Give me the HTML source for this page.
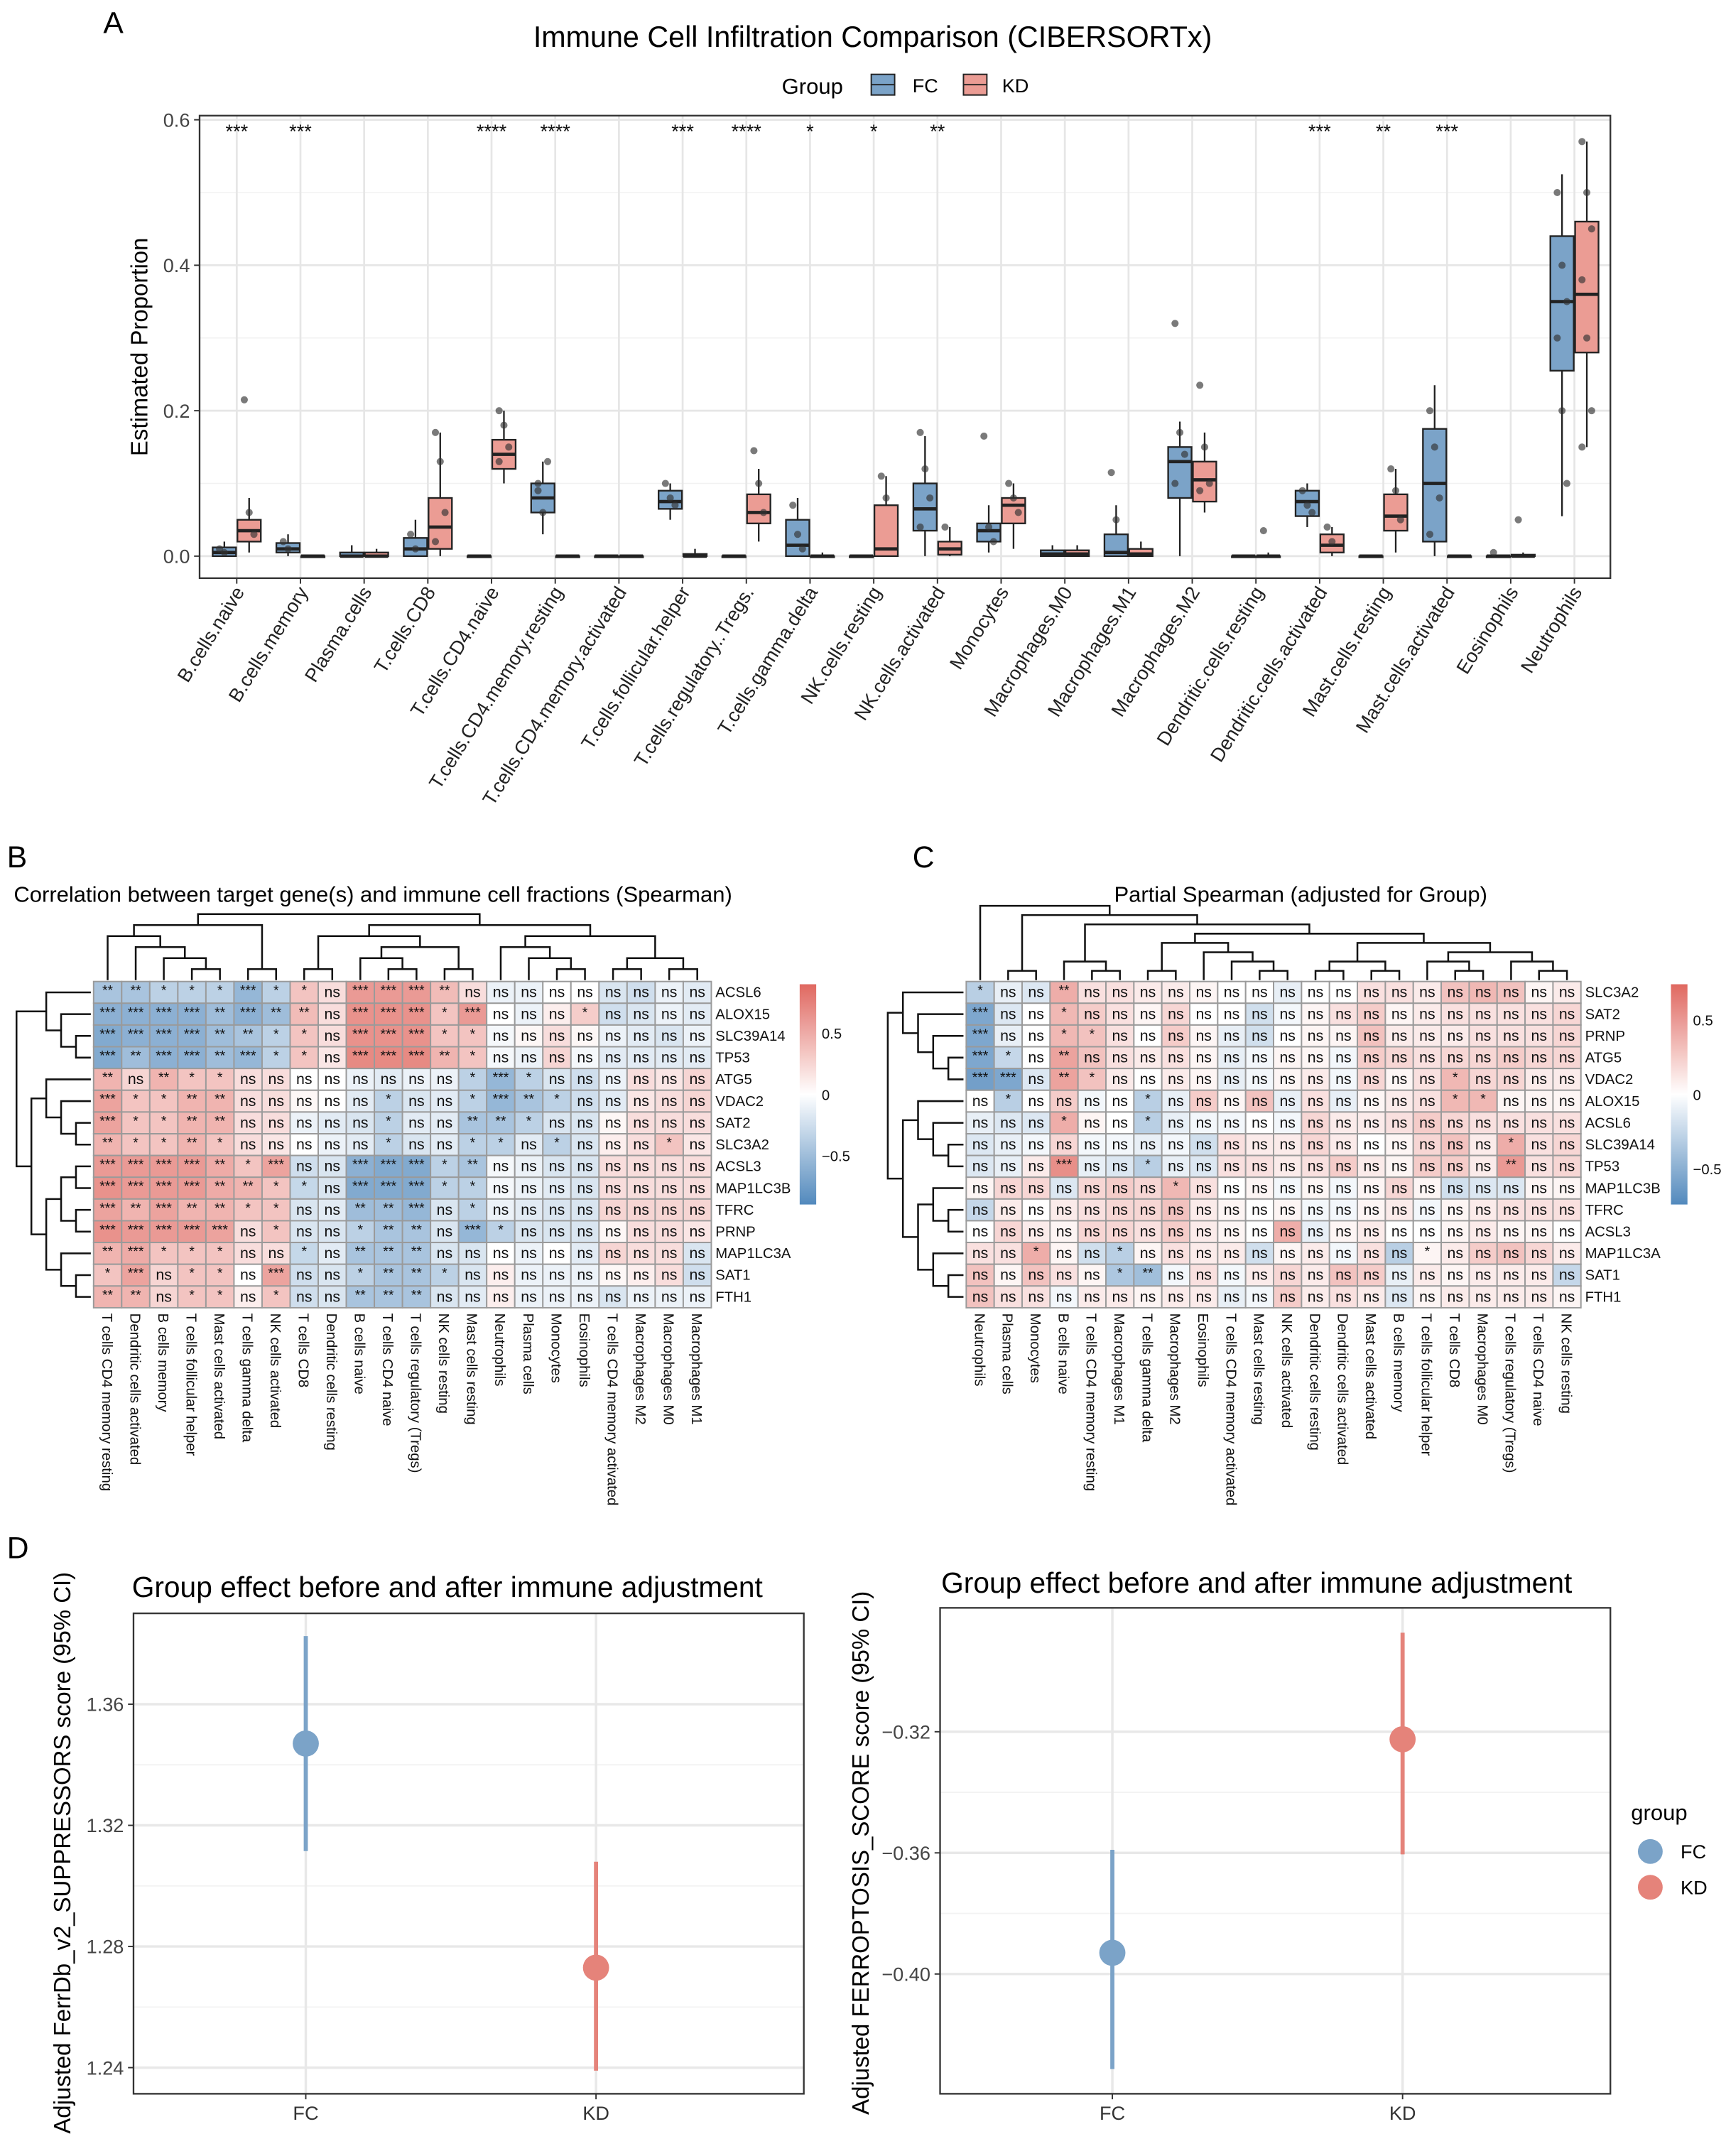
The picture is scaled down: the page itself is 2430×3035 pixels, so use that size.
<!DOCTYPE html>
<html><head><meta charset="utf-8"><style>
html,body{margin:0;padding:0;background:#fff;}
svg{display:block;font-family:"Liberation Sans",Arial,sans-serif;}
</style></head><body>
<svg id="fig" xmlns="http://www.w3.org/2000/svg" width="2430" height="3035" viewBox="0 0 1254 1566.2">
<rect x="0" y="0" width="1254" height="1566.2" fill="#fff"/>
<text x="75" y="24" font-size="22">A</text>
<text x="5" y="630" font-size="22">B</text>
<text x="663" y="630" font-size="22">C</text>
<text x="5" y="1132" font-size="22">D</text>
<text x="634" y="34" font-size="21.3" text-anchor="middle">Immune Cell Infiltration Comparison (CIBERSORTx)</text>
<g>
<text x="568" y="68" font-size="16">Group</text>
<rect x="633" y="54" width="17" height="15" fill="#7ba3c8" stroke="#222"/>
<line x1="633" y1="61.5" x2="650" y2="61.5" stroke="#222"/>
<text x="663" y="67" font-size="14">FC</text>
<rect x="700" y="54" width="17" height="15" fill="#eb9c94" stroke="#222"/>
<line x1="700" y1="61.5" x2="717" y2="61.5" stroke="#222"/>
<text x="728" y="67" font-size="14">KD</text>
</g>
<text x="0" y="0" font-size="17" text-anchor="middle" transform="translate(107,252) rotate(-90)">Estimated Proportion</text>
<text x="10" y="655" font-size="16">Correlation between target gene(s) and immune cell fractions (Spearman)</text>
<text x="945" y="655" font-size="16" text-anchor="middle">Partial Spearman (adjusted for Group)</text>
<text x="325" y="1160" font-size="21" text-anchor="middle">Group effect before and after immune adjustment</text>
<text x="913" y="1157" font-size="21" text-anchor="middle">Group effect before and after immune adjustment</text>
<text x="0" y="0" font-size="17" text-anchor="middle" transform="translate(51,1346) rotate(-90)">Adjusted FerrDb_v2_SUPPRESSORS score (95% CI)</text>
<text x="0" y="0" font-size="17" text-anchor="middle" transform="translate(631,1346) rotate(-90)">Adjusted FERROPTOSIS_SCORE score (95% CI)</text>
<g>
<text x="1185" y="1322" font-size="16">group</text>
<circle cx="1199" cy="1345" r="9" fill="#7ba3c8"/>
<text x="1221" y="1350" font-size="14">FC</text>
<circle cx="1199" cy="1371" r="9" fill="#e5837a"/>
<text x="1221" y="1376" font-size="14">KD</text>
</g>
<g id="gA"></g><g id="gB"></g><g id="gC"></g><g id="gD"></g>
</svg>
<script>
// ---------- Panel A data ----------
const catsA=["B.cells.naive","B.cells.memory","Plasma.cells","T.cells.CD8","T.cells.CD4.naive","T.cells.CD4.memory.resting","T.cells.CD4.memory.activated","T.cells.follicular.helper","T.cells.regulatory..Tregs.","T.cells.gamma.delta","NK.cells.resting","NK.cells.activated","Monocytes","Macrophages.M0","Macrophages.M1","Macrophages.M2","Dendritic.cells.resting","Dendritic.cells.activated","Mast.cells.resting","Mast.cells.activated","Eosinophils","Neutrophils"];
// [whiskerLow, q1, median, q3, whiskerHigh]
const fcStats=[[0,0,0.005,0.012,0.02],[0,0.005,0.01,0.018,0.03],[0,0,0,0.005,0.015],[0,0,0.01,0.025,0.05],[0,0,0,0,0],[0.03,0.06,0.08,0.1,0.13],[0,0,0,0,0],[0.05,0.065,0.075,0.09,0.1],[0,0,0,0,0],[0,0,0.015,0.05,0.08],[0,0,0,0,0],[0,0.035,0.065,0.1,0.165],[0.005,0.02,0.035,0.045,0.07],[0,0,0.003,0.008,0.015],[0,0,0.005,0.03,0.07],[0,0.08,0.13,0.15,0.185],[0,0,0,0,0],[0.04,0.055,0.075,0.09,0.1],[0,0,0,0,0],[0,0.02,0.1,0.175,0.235],[0,0,0,0,0],[0.055,0.255,0.35,0.44,0.525]];
const kdStats=[[0.005,0.02,0.035,0.05,0.08],[0,0,0,0,0],[0,0,0,0.005,0.01],[0,0.01,0.04,0.08,0.17],[0.1,0.12,0.14,0.16,0.2],[0,0,0,0,0],[0,0,0,0,0],[0,0,0,0.003,0.01],[0.02,0.045,0.06,0.085,0.12],[0,0,0,0,0.005],[0,0,0.01,0.07,0.11],[0,0.002,0.01,0.02,0.04],[0.01,0.045,0.07,0.08,0.1],[0,0,0.003,0.008,0.015],[0,0,0.003,0.01,0.02],[0.06,0.075,0.105,0.13,0.17],[0,0,0,0,0.005],[0,0.005,0.015,0.03,0.04],[0.005,0.035,0.055,0.085,0.12],[0,0,0,0,0],[0,0,0,0.002,0.005],[0.15,0.28,0.36,0.46,0.57]];
const fcPoints=[[0,0.01,0.005],[1,0.02,0.01],[3,0.03,0.01],[5,0.1,0.06,0.13,0.09],[7,0.1,0.08,0.07],[9,0.07,0.03,0.01],[11,0.17,0.12,0.08,0.04],[12,0.165,0.04,0.02],[14,0.115,0.05],[15,0.32,0.17,0.14,0.1],[17,0.09,0.07,0.06],[19,0.2,0.15,0.08,0.03],[20,0.005],[21,0.5,0.4,0.35,0.3,0.2,0.1]];
const kdPoints=[[0,0.215,0.06,0.03],[3,0.17,0.13,0.06,0.02],[4,0.2,0.18,0.15,0.13],[8,0.145,0.1,0.06],[10,0.11,0.08],[11,0.04],[12,0.1,0.08,0.06],[15,0.235,0.15,0.1,0.09],[16,0.035],[17,0.04,0.02],[18,0.12,0.09,0.05],[20,0.05],[21,0.57,0.5,0.45,0.38,0.3,0.2,0.15]];
const sigA=["***","***","","","****","****","","***","****","*","*","**","","","","","","***","**","***","",""];
const yTicksA=[0,0.2,0.4,0.6];
const yTickLabelsA=["0.0","0.2","0.4","0.6"];

// ---------- Panel B data ----------
const colsB=["T cells CD4 memory resting","Dendritic cells activated","B cells memory","T cells follicular helper","Mast cells activated","T cells gamma delta","NK cells activated","T cells CD8","Dendritic cells resting","B cells naive","T cells CD4 naive","T cells regulatory (Tregs)","NK cells resting","Mast cells resting","Neutrophils","Plasma cells","Monocytes","Eosinophils","T cells CD4 memory activated","Macrophages M2","Macrophages M0","Macrophages M1"];
const rowsB=["ACSL6","ALOX15","SLC39A14","TP53","ATG5","VDAC2","SAT2","SLC3A2","ACSL3","MAP1LC3B","TFRC","PRNP","MAP1LC3A","SAT1","FTH1"];
const valsB=[
[-.45,-.45,-.35,-.35,-.35,-.55,-.35,.35,.2,.6,.6,.6,.4,.2,-.1,-.1,0,0,-.2,-.25,-.1,-.15],
[-.6,-.6,-.6,-.6,-.5,-.6,-.5,.4,.2,.65,.65,.65,.35,.6,0,-.1,.1,.3,-.25,-.2,-.1,-.15],
[-.65,-.6,-.6,-.6,-.5,-.45,-.35,.35,.2,.65,.65,.65,.35,.35,-.05,.05,.2,.05,-.1,-.15,-.2,-.1],
[-.65,-.5,-.6,-.6,-.5,-.55,-.35,.35,.15,.7,.7,.7,.45,.35,-.05,-.1,.25,-.05,-.15,-.15,-.15,-.15],
[.45,.25,.45,.35,.35,.2,.2,0,0,-.1,-.15,-.1,-.1,-.35,-.55,-.35,-.2,-.25,-.1,.2,.15,.25],
[.55,.35,.35,.45,.45,.2,.2,.05,0,-.15,-.35,-.2,-.15,-.35,-.55,-.45,-.35,-.25,-.15,.15,.2,.25],
[.55,.35,.35,.45,.45,.2,.2,-.1,-.15,-.2,-.35,-.15,-.15,-.45,-.45,-.35,-.2,-.2,.05,.2,.2,.2],
[.45,.35,.35,.45,.35,.2,.15,0,-.1,-.15,-.35,-.2,-.15,-.35,-.35,-.15,-.35,-.2,.1,.2,.35,.15],
[.6,.6,.6,.6,.5,.35,.55,-.25,-.2,-.6,-.65,-.65,-.35,-.45,-.05,-.1,-.2,-.2,.2,.2,.2,.2],
[.65,.6,.6,.6,.5,.45,.35,-.3,-.2,-.65,-.65,-.65,-.35,-.35,-.05,-.1,-.15,-.2,.2,.2,.2,.2],
[.55,.45,.55,.45,.45,.35,.35,-.2,-.15,-.5,-.5,-.55,-.2,-.35,-.1,-.15,-.2,-.2,.25,.25,.25,.25],
[.65,.6,.6,.6,.55,.2,.35,-.2,-.2,-.35,-.45,-.45,-.2,-.55,-.35,-.2,-.2,-.2,.05,.2,.2,.15],
[.45,.5,.35,.35,.35,.2,.2,-.3,-.15,-.45,-.45,-.45,-.2,-.2,0,-.1,0,-.15,.25,.2,.2,-.2],
[.35,.55,.25,.35,.35,0,.55,-.25,-.2,-.35,-.45,-.45,-.35,-.2,.1,-.1,-.1,-.1,.05,.1,.2,-.25],
[.45,.45,.25,.35,.35,.1,.35,-.25,-.2,-.45,-.45,-.45,-.2,-.15,.1,-.1,-.1,-.1,-.2,-.1,-.1,-.1]];
const sigB=[
"** ** * * * *** * * ns *** *** *** ** ns ns ns ns ns ns ns ns ns",
"*** *** *** *** ** *** ** ** ns *** *** *** * *** ns ns ns * ns ns ns ns",
"*** *** *** *** ** ** * * ns *** *** *** * * ns ns ns ns ns ns ns ns",
"*** ** *** *** ** *** * * ns *** *** *** ** * ns ns ns ns ns ns ns ns",
"** ns ** * * ns ns ns ns ns ns ns ns * *** * ns ns ns ns ns ns",
"*** * * ** ** ns ns ns ns ns * ns ns * *** ** * ns ns ns ns ns",
"*** * * ** ** ns ns ns ns ns * ns ns ** ** * ns ns ns ns ns ns",
"** * * ** * ns ns ns ns ns * ns ns * * ns * ns ns ns * ns",
"*** *** *** *** ** * *** ns ns *** *** *** * ** ns ns ns ns ns ns ns ns",
"*** *** *** *** ** ** * * ns *** *** *** * * ns ns ns ns ns ns ns ns",
"*** ** *** ** ** * * ns ns ** ** *** ns * ns ns ns ns ns ns ns ns",
"*** *** *** *** *** ns * ns ns * ** ** ns *** * ns ns ns ns ns ns ns",
"** *** * * * ns ns * ns ** ** ** ns ns ns ns ns ns ns ns ns ns",
"* *** ns * * ns *** ns ns * ** ** * ns ns ns ns ns ns ns ns ns",
"** ** ns * * ns * ns ns ** ** ** ns ns ns ns ns ns ns ns ns ns"];
const colTreeB=[[[0,[1,[2,[3,4]]]],[5,6]],[[[7,8],[[9,[10,11]],[12,13]]],[[14,[15,[16,17]]],[[18,19],[20,21]]]]];
const rowTreeB=[[0,[1,[2,3]]],[[4,[5,[6,7]]],[[[8,9],[10,11]],[12,[13,14]]]]];
const legTicksB=[0.5,0,-0.5];

// ---------- Panel C data ----------
const colsC=["Neutrophils","Plasma cells","Monocytes","B cells naive","T cells CD4 memory resting","Macrophages M1","T cells gamma delta","Macrophages M2","Eosinophils","T cells CD4 memory activated","Mast cells resting","NK cells activated","Dendritic cells resting","Dendritic cells activated","Mast cells activated","B cells memory","T cells follicular helper","T cells CD8","Macrophages M0","T cells regulatory (Tregs)","T cells CD4 naive","NK cells resting"];
const rowsC=["SLC3A2","SAT2","PRNP","ATG5","VDAC2","ALOX15","ACSL6","SLC39A14","TP53","MAP1LC3B","TFRC","ACSL3","MAP1LC3A","SAT1","FTH1"];
const valsC=[
[-.3,-.1,-.15,.4,.15,.15,.1,.1,.05,0,0,-.1,0,0,.15,.15,.1,.3,.35,.3,.05,.1],
[-.55,-.15,0,.35,.25,.15,.05,.2,0,0,-.2,-.05,.05,.15,.25,.05,.1,.15,.15,.15,.15,.2],
[-.55,-.1,0,.35,.3,.15,0,.25,.05,-.1,-.2,0,.05,.05,.3,.1,.1,.1,.15,.15,.15,.2],
[-.55,-.25,0,.45,.3,.15,.1,.15,.05,-.1,-.05,.05,.05,-.05,.25,.2,.15,.2,.2,.25,.2,.2],
[-.6,-.55,-.15,.45,.3,.1,0,.1,.05,-.1,-.05,.05,.1,-.05,.2,.05,.15,.35,.2,.2,.1,.1],
[0,-.3,0,.25,-.05,0,-.3,-.1,.25,.05,.3,-.1,.15,-.1,.05,.1,.15,.35,.35,.05,.05,.05],
[-.1,-.15,-.15,.4,.05,0,-.3,-.1,-.05,-.05,0,-.05,.2,.1,.1,.15,.25,.2,.15,.15,.15,.15],
[-.15,-.1,-.05,.2,-.05,-.05,-.1,-.05,-.2,.15,.1,.1,.2,.1,0,.05,.2,.3,.1,.4,.15,.2],
[-.15,-.1,.1,.55,-.1,-.15,-.3,-.1,-.15,.15,.15,.1,.15,.25,.1,.05,.25,.25,.1,.5,.15,.2],
[.05,.2,.2,-.15,.2,.25,.2,.35,.15,0,.05,-.05,.05,-.05,.05,.2,.05,-.2,-.15,-.15,.05,.05],
[-.25,.1,0,.1,.15,.2,.2,.3,.1,.05,0,.05,-.05,-.05,.05,.1,-.05,.05,.1,.15,.15,.15],
[0,.2,.1,.05,.2,.2,.15,.25,.1,.05,0,.4,-.1,.05,.1,0,0,.05,.1,.05,.05,0],
[.15,.15,.4,.05,-.2,-.3,.05,.15,.1,.1,-.2,.05,.1,-.05,.15,-.3,.05,.1,.25,.3,.2,.1],
[.3,.05,.3,.15,.05,-.35,-.4,-.05,.15,-.05,.1,.2,.1,.3,.25,-.1,.1,.05,.1,.1,.1,-.25],
[.3,.15,.15,-.05,.1,.1,.05,.1,.1,-.1,-.05,.25,.1,.15,.1,-.15,.05,.1,.1,.1,.1,.05]];
const sigC=[
"* ns ns ** ns ns ns ns ns ns ns ns ns ns ns ns ns ns ns ns ns ns",
"*** ns ns * ns ns ns ns ns ns ns ns ns ns ns ns ns ns ns ns ns ns",
"*** ns ns * * ns ns ns ns ns ns ns ns ns ns ns ns ns ns ns ns ns",
"*** * ns ** ns ns ns ns ns ns ns ns ns ns ns ns ns ns ns ns ns ns",
"*** *** ns ** * ns ns ns ns ns ns ns ns ns ns ns ns * ns ns ns ns",
"ns * ns ns ns ns * ns ns ns ns ns ns ns ns ns ns * * ns ns ns",
"ns ns ns * ns ns * ns ns ns ns ns ns ns ns ns ns ns ns ns ns ns",
"ns ns ns ns ns ns ns ns ns ns ns ns ns ns ns ns ns ns ns * ns ns",
"ns ns ns *** ns ns * ns ns ns ns ns ns ns ns ns ns ns ns ** ns ns",
"ns ns ns ns ns ns ns * ns ns ns ns ns ns ns ns ns ns ns ns ns ns",
"ns ns ns ns ns ns ns ns ns ns ns ns ns ns ns ns ns ns ns ns ns ns",
"ns ns ns ns ns ns ns ns ns ns ns ns ns ns ns ns ns ns ns ns ns ns",
"ns ns * ns ns * ns ns ns ns ns ns ns ns ns ns * ns ns ns ns ns",
"ns ns ns ns ns * ** ns ns ns ns ns ns ns ns ns ns ns ns ns ns ns",
"ns ns ns ns ns ns ns ns ns ns ns ns ns ns ns ns ns ns ns ns ns ns"];
const colTreeC=[0,[[1,2],[[3,[4,5]],[[[6,7],[8,[9,[10,11]]]],[[[12,13],[14,15]],[[16,[17,18]],[19,[20,21]]]]]]]];
const rowTreeC=[[0,[1,[2,[3,4]]]],[[5,[6,[7,8]]],[[9,[10,11]],[12,[13,14]]]]];
const legTicksC=[0.5,0,-0.5];

// ---------- Panel D data ----------
const groupsD=["FC","KD"];
const leftEst=[1.347,1.273], leftLo=[1.3115,1.239], leftHi=[1.3825,1.308];
const leftTicks=[1.24,1.28,1.32,1.36];
const rightEst=[-0.393,-0.3225], rightLo=[-0.4314,-0.3605], rightHi=[-0.359,-0.2873];
const rightTicks=[-0.40,-0.36,-0.32];

const NS="http://www.w3.org/2000/svg";
function mk(tag,attrs,parent){const e=document.createElementNS(NS,tag);for(const k in attrs)e.setAttribute(k,attrs[k]);parent.appendChild(e);return e;}

// ===== Panel A =====
(function(){
const g=document.getElementById('gA');
const L=145,R=1170,T=84,B=420;
const xA=i=>172+i*46.28;
const yA=v=>404-v*528.3;
let e=mk('rect',{x:L,y:T,width:R-L,height:B-T,fill:'#fff'},g);


[0.1,0.3,0.5].forEach(v=>{const m=mk('line',{x1:L,x2:R,y1:yA(v),y2:yA(v),stroke:'#f2f2f2','stroke-width':0.8},g);

});
yTicksA.forEach((v,i)=>{const m=mk('line',{x1:L,x2:R,y1:yA(v),y2:yA(v),stroke:'#e6e6e6','stroke-width':1.4},g);


const tk=mk('line',{x1:L-4,x2:L,y1:yA(v),y2:yA(v),stroke:'#333'},g);


const t=mk('text',{x:L-7,y:yA(v)+5,'font-size':14,'text-anchor':'end',fill:'#444'},g);t.textContent=yTickLabelsA[i];

});
catsA.forEach((c,i)=>{const m=mk('line',{x1:xA(i),x2:xA(i),y1:T,y2:B,stroke:'#e6e6e6','stroke-width':1.4},g);


const tk=mk('line',{x1:xA(i),x2:xA(i),y1:B,y2:B+4,stroke:'#333'},g);


const t=mk('text',{x:0,y:0,'font-size':14,'text-anchor':'end',fill:'#222',transform:`translate(${xA(i)+6},${B+10}) rotate(-58)`},g);t.textContent=c;


if(sigA[i]){const s=mk('text',{x:xA(i),y:100,'font-size':14,'text-anchor':'middle',fill:'#111'},g);s.textContent=sigA[i];

}});
function box(i,st,off,fill,nm){
 const cx=xA(i)+off,w=17;
 const wl=mk('line',{x1:cx,x2:cx,y1:yA(st[0]),y2:yA(st[4]),stroke:'#222','stroke-width':1.2},g);
 
 
 const r=mk('rect',{x:cx-w/2,y:yA(st[3]),width:w,height:Math.max(0.8,yA(st[1])-yA(st[3])),fill:fill,stroke:'#222','stroke-width':1.2},g);
 
 
 const md=mk('line',{x1:cx-w/2,x2:cx+w/2,y1:yA(st[2]),y2:yA(st[2]),stroke:'#222','stroke-width':2.4},g);
 
 
}
catsA.forEach((c,i)=>{box(i,fcStats[i],-9,'#7ba3c8','fc');box(i,kdStats[i],9,'#eb9c94','kd');});
function pts(arr,off){arr.forEach(r=>{const i=r[0];r.slice(1).forEach((v,k)=>{const p=mk('circle',{cx:xA(i)+off+((k%3)-1)*3.5,cy:yA(v),r:2.6,fill:'#333','fill-opacity':0.65},g);

});});}
pts(fcPoints,-9);pts(kdPoints,9);
e=mk('rect',{x:L,y:T,width:R-L,height:B-T,fill:'none',stroke:'#333','stroke-width':1.2},g);


})();

// ===== Heatmaps =====
function lerp(a,b,t){return Math.round(a+(b-a)*t);}
function colr(v,rng){const t=Math.min(1,Math.abs(v)/rng);const c=v>=0?[224,104,96]:[82,137,189];return `rgb(${lerp(255,c[0],t)},${lerp(255,c[1],t)},${lerp(255,c[2],t)})`;}
function heat(gid,x0,y0,cw,rh,cols,rows,vals,sig,colTree,rowTree,rowDx0,rowDx1,colTop,legX,legTicks,legRange,pfx){
const g=document.getElementById(gid);
rows.forEach((rn,r)=>{const sg=sig[r].split(' ');cols.forEach((cn,c)=>{
 const cell=mk('rect',{x:x0+c*cw,y:y0+r*rh,width:cw,height:rh,fill:colr(vals[r][c],legRange),stroke:'#9a9a9a','stroke-width':1},g);
 
 
 const s=sg[c];const isns=s==='ns';
 const t=mk('text',{x:x0+c*cw+cw/2,y:y0+r*rh+(isns?rh*0.72:rh*0.62),'font-size':isns?11:10,'text-anchor':'middle',fill:'#111'},g);t.textContent=s;
 
 });
 const t=mk('text',{x:x0+cols.length*cw+3,y:y0+r*rh+rh*0.72,'font-size':10.5,fill:'#111'},g);t.textContent=rn;
 
 });
cols.forEach((cn,c)=>{const t=mk('text',{x:0,y:0,'font-size':10.5,fill:'#111',transform:`translate(${x0+c*cw+cw/2-4},${y0+rows.length*rh+4}) rotate(90)`},g);t.textContent=cn;
 
 });
function ht(n){return Array.isArray(n)?1+Math.max(ht(n[0]),ht(n[1])):0;}
function draw(n,pos,base,scale,horiz){
 if(!Array.isArray(n))return [pos(n),0];
 const a=draw(n[0],pos,base,scale,horiz),b=draw(n[1],pos,base,scale,horiz);
 const h=Math.max(a[1],b[1])+1;const hp=base-h*scale,ha=base-a[1]*scale,hb=base-b[1]*scale;
 const d=horiz?`M${ha},${a[0]}H${hp}V${b[0]}H${hb}`:`M${a[0]},${ha}V${hp}H${b[0]}V${hb}`;
 const p=mk('path',{d:d,fill:'none',stroke:'#111','stroke-width':1.3},g);
 
 
 return [(a[0]+b[0])/2,h];}
const ch=ht(colTree);draw(colTree,i=>x0+i*cw+cw/2,y0-1,(y0-1-colTop)/ch,false);
const rhh=ht(rowTree);draw(rowTree,i=>y0+i*rh+rh/2,rowDx1,(rowDx1-rowDx0)/rhh,true);
const lg=mk('defs',{},g);const gr=mk('linearGradient',{id:pfx+'grad',x1:0,y1:0,x2:0,y2:1},lg);
for(let k=0;k<=10;k++){const v=legRange*(1-2*k/10);mk('stop',{offset:k/10,'stop-color':colr(v,legRange)},gr);}
const ly0=715,ly1=875;
const bar=mk('rect',{x:legX,y:ly0,width:12,height:ly1-ly0,fill:`url(#${pfx}grad)`},g);


legTicks.forEach(v=>{const y=ly0+(legRange-v)/(2*legRange)*(ly1-ly0);const t=mk('text',{x:legX+16,y:y+4,'font-size':10.5,fill:'#111'},g);t.textContent=v===0?'0':(v<0?'\u22120.5':'0.5');
 
 });
}
heat('gB',68,713,20.4,15.8,colsB,rowsB,valsB,sigB,colTreeB,rowTreeB,12,66,664,581,legTicksB,0.9,'heatmap-b');
heat('gC',702,713,20.3,15.8,colsC,rowsC,valsC,sigC,colTreeC,rowTreeC,645,700,658,1214,legTicksC,0.74,'heatmap-c');

// ===== Panel D =====
function dplot(L,R,T,B,est,lo,hi,ticks,yv,fmt,pfx){
const g=document.getElementById('gD');
const xs=[L+(R-L)*0.257,L+(R-L)*0.69];
let e=mk('rect',{x:L,y:T,width:R-L,height:B-T,fill:'#fff'},g);


for(let k=0;k<ticks.length-1;k++){const y=(yv(ticks[k])+yv(ticks[k+1]))/2;const m=mk('line',{x1:L,x2:R,y1:y,y2:y,stroke:'#f3f3f3','stroke-width':1},g);
 
 }
ticks.forEach(v=>{const m=mk('line',{x1:L,x2:R,y1:yv(v),y2:yv(v),stroke:'#e8e8e8','stroke-width':1.8},g);
 
 
 const tk=mk('line',{x1:L-4,x2:L,y1:yv(v),y2:yv(v),stroke:'#333'},g);
 
 
 const t=mk('text',{x:L-7,y:yv(v)+5,'font-size':14,'text-anchor':'end',fill:'#444'},g);t.textContent=fmt(v);
 
 });
groupsD.forEach((gn,i)=>{const m=mk('line',{x1:xs[i],x2:xs[i],y1:T,y2:B,stroke:'#e8e8e8','stroke-width':1.8},g);
 
 
 const tk=mk('line',{x1:xs[i],x2:xs[i],y1:B,y2:B+4,stroke:'#333'},g);
 
 
 const t=mk('text',{x:xs[i],y:B+19,'font-size':14,'text-anchor':'middle',fill:'#333'},g);t.textContent=gn;
 
 });
groupsD.forEach((gn,i)=>{const col=i===0?'#7ba3c8':'#e5837a';
 const l=mk('line',{x1:xs[i],x2:xs[i],y1:yv(lo[i]),y2:yv(hi[i]),stroke:col,'stroke-width':3},g);
 
 
 const c=mk('circle',{cx:xs[i],cy:yv(est[i]),r:9.5,fill:col},g);
 
 });
e=mk('rect',{x:L,y:T,width:R-L,height:B-T,fill:'none',stroke:'#333','stroke-width':1.2},g);


}
dplot(97,584,1172,1521,leftEst,leftLo,leftHi,leftTicks,v=>1238+(1.36-v)/0.04*88,v=>v.toFixed(2),'effect-left');
dplot(683,1170,1168,1521,rightEst,rightLo,rightHi,rightTicks,v=>1258+(-0.32-v)/0.04*88,v=>(v<0?'\u2212':'')+Math.abs(v).toFixed(2),'effect-right');
</script>
</body></html>
